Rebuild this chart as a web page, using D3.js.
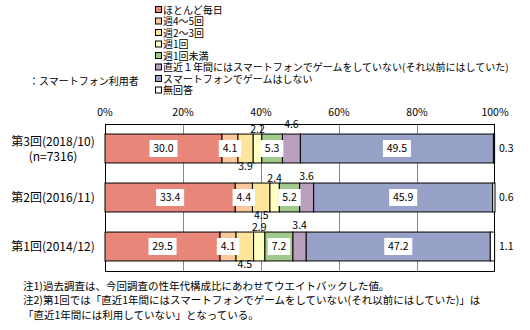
<!DOCTYPE html>
<html>
<head>
<meta charset="utf-8">
<script src="https://cdn.jsdelivr.net/npm/d3@7"></script>
<style>
  html, body { margin: 0; padding: 0; background: #fff; }
  svg { display: block; }
  text { font-family: "Noto Sans CJK JP", "Noto Sans", sans-serif; fill: #000; }
</style>
</head>
<body>
<svg id="chart" width="530" height="330"></svg>
<script>
// Survey rounds (top to bottom)
const rounds = ["第3回(2018/10)", "第2回(2016/11)", "第1回(2014/12)"];
const roundSub = ["(n=7316)", "", ""];

// Answer categories (stack order, left to right)
const categories = [
  "ほとんど毎日",
  "週4～5回",
  "週2～3回",
  "週1回",
  "週1回未満",
  "直近１年間にはスマートフォンでゲームをしていない(それ以前にはしていた)",
  "スマートフォンでゲームはしない",
  "無回答"
];
const colors = ["#e9867a", "#fac89d", "#fde49b", "#ffffc2", "#a1c98b", "#b99fbe", "#98a1c8", "#ffffff"];

// Shares (%) per round, in category order
const share3 = [30.0, 4.1, 3.9, 2.2, 5.3, 4.6, 49.5, 0.3];
const share2 = [33.4, 4.4, 4.5, 2.4, 5.2, 3.6, 45.9, 0.6];
const share1 = [29.5, 4.1, 4.5, 2.9, 7.2, 3.4, 47.2, 1.1];
const shares = [share3, share2, share1];

const tickValues = [0, 20, 40, 60, 80, 100];
const notes = [
  "注1)過去調査は、今回調査の性年代構成比にあわせてウエイトバックした値。",
  "注2)第1回では「直近1年間にはスマートフォンでゲームをしていない(それ以前にはしていた)」は",
  "「直近1年間には利用していない」となっている。"
];

// How each category's value label is placed
const labelMode = ["box", "box", "below", "above", "box", "above", "box", "right"];

const svg = d3.select("#chart");
const x = d3.scaleLinear().domain([0, 100]).range([105, 495]);
const y = d3.scaleBand().domain(rounds).range([124, 271]).paddingInner(0.41).paddingOuter(0.205);

// Legend
const lg = svg.append("g");
categories.forEach((c, i) => {
  const yy = 10 + i * 11.5;
  lg.append("rect").attr("x", 155.5).attr("y", yy - 3.5).attr("width", 6).attr("height", 6)
    .attr("fill", colors[i]).attr("stroke", "#000").attr("stroke-width", 1);
  lg.append("text").attr("x", 163).attr("y", yy).attr("dy", "0.35em")
    .attr("font-size", 10).text(c);
});
svg.append("text").attr("x", 29).attr("y", 81).attr("dy", "0.35em").attr("font-size", 10)
  .text("：スマートフォン利用者");

// Axis tick labels on top
svg.append("g").selectAll("text").data(tickValues).join("text")
  .attr("x", d => x(d)).attr("y", 112).attr("dy", "0.35em").attr("text-anchor", "middle")
  .attr("font-size", 10.5).text(d => d + "%");

// Gridlines
svg.append("g").selectAll("line").data(tickValues.slice(1, -1)).join("line")
  .attr("x1", d => Math.round(x(d)) + 0.5).attr("x2", d => Math.round(x(d)) + 0.5)
  .attr("y1", 124).attr("y2", 271).attr("stroke", "#888").attr("stroke-width", 1);

// Plot frame
svg.append("rect").attr("x", 105.5).attr("y", 124.5).attr("width", 389).attr("height", 147)
  .attr("fill", "none").attr("stroke", "#000").attr("stroke-width", 1);

// Stacked bars
rounds.forEach((r, ri) => {
  const vals = shares[ri];
  let acc = 0;
  const segs = vals.map((v, i) => { const s = { i, v, x0: acc, x1: acc + v }; acc += v; return s; });
  const g = svg.append("g");
  const by = y(r), bh = y.bandwidth();
  g.selectAll("rect").data(segs).join("rect")
    .attr("x", d => x(d.x0)).attr("y", by)
    .attr("width", d => x(d.x1) - x(d.x0)).attr("height", bh)
    .attr("fill", d => colors[d.i]).attr("stroke", "#000").attr("stroke-width", 1);

  segs.forEach(d => {
    const cx = (x(d.x0) + x(d.x1)) / 2;
    const txt = d.v.toFixed(1);
    const mode = labelMode[d.i];
    if (mode === "box") {
      const w = txt.length * 5.5 + 6;
      g.append("rect").attr("x", cx - w / 2).attr("y", by + bh / 2 - 8.5).attr("width", w).attr("height", 17)
        .attr("fill", "#fff");
      g.append("text").attr("x", cx).attr("y", by + bh / 2).attr("dy", "0.35em").attr("text-anchor", "middle")
        .attr("font-size", 10.5).text(txt);
    } else if (mode === "above") {
      const off = d.i === 5 ? (ri === 0 ? 10 : 7) : 5;
      g.append("text").attr("x", cx).attr("y", by - off).attr("dy", "0.35em").attr("text-anchor", "middle")
        .attr("font-size", 10.5).text(txt);
    } else if (mode === "below") {
      g.append("text").attr("x", cx).attr("y", by + bh + 3).attr("dy", "0.35em").attr("text-anchor", "middle")
        .attr("font-size", 10.5).text(txt);
    } else {
      g.append("text").attr("x", 499).attr("y", by + bh / 2).attr("dy", "0.35em")
        .attr("font-size", 10.5).text(txt);
    }
  });

  // Round label
  const ly = roundSub[ri] ? by + 8 : by + bh / 2;
  svg.append("text").attr("x", 53).attr("y", ly).attr("dy", "0.35em").attr("text-anchor", "middle")
    .attr("font-size", 12).text(r);
  if (roundSub[ri]) {
    svg.append("text").attr("x", 53).attr("y", ly + 15).attr("dy", "0.35em").attr("text-anchor", "middle")
      .attr("font-size", 12).text(roundSub[ri]);
  }
});

// Notes
svg.append("g").selectAll("text").data(notes).join("text")
  .attr("x", 23).attr("y", (d, i) => 286 + i * 14.5).attr("dy", "0.35em")
  .attr("font-size", 10.5).text(d => d);
</script>
</body>
</html>
